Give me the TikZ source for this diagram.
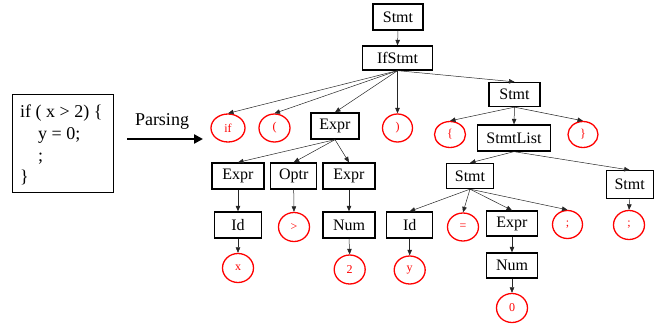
\documentclass[tikz,border=0pt]{standalone}
\usepackage{fontspec}
\setmainfont{Liberation Serif}
\usetikzlibrary{arrows.meta,shapes.geometric}

\tikzset{
  nt/.style={draw=black, line width=1.3pt, rectangle, inner sep=0pt,
    minimum height=26pt, font=\fontsize{16}{18}\selectfont},
  tok/.style={draw=red, line width=1.3pt, ellipse, inner sep=0pt,
    minimum width=31pt, minimum height=28pt, text=red,
    font=\fontsize{12}{14}\selectfont},
  edge/.style={draw=black!85, line width=0.5pt,
    -{Triangle[length=5.5pt,width=4.5pt]}},
  codeline/.style={anchor=base west, inner sep=0pt,
    font=\fontsize{18}{20}\selectfont},
}

\begin{document}
\begin{tikzpicture}[x=1pt,y=-1pt]
\useasboundingbox (0,0) rectangle (657,324);

% source program
\node (codebox) [draw=black, line width=1pt, minimum width=101pt,
  minimum height=98pt, inner sep=0pt] at (62.5,143) {};
\node (l1) [codeline] at (20,117.5) {if ( x > 2) \{};
\node (l2) [codeline] at (38,139.5) {y = 0;};
\node (l3) [codeline] at (38,161) {;};
\node (l4) [codeline] at (20,182.5) {\}};

% parsing arrow
\node (parsing) [anchor=base, inner sep=0pt,
  font=\fontsize{18}{20}\selectfont] at (162,125.5) {Parsing};
\coordinate (pa) at (127,139);
\coordinate (pb) at (203,139);
\draw[line width=2.5pt, -{Triangle[length=9pt,width=9pt]}] (pa) -- (pb);

% parse tree
\node (root)  [nt, minimum width=50pt] at (398,17) {Stmt};
\node (ifs)   [nt, minimum width=70pt, minimum height=24pt] at (397.5,58) {IfStmt};

\node (cif)   [tok, minimum width=34pt] at (228,128) {if};
\node (clp)   [tok] at (274.5,128) {(};
\node (expr)  [nt, minimum width=48pt] at (335,126) {Expr};
\node (crp)   [tok, minimum width=30pt] at (397.5,128) {)};
\node (stmtb) [nt, minimum width=51pt, minimum height=24pt] at (514.5,94.5) {Stmt};

\node (clb)   [tok, minimum height=26pt] at (450,134.5) {\{};
\node (slist) [nt, minimum width=73pt] at (514,138) {StmtList};
\node (crb)   [tok, minimum width=30pt, minimum height=26pt] at (583,134.5) {\}};

\node (expra) [nt, minimum width=52pt] at (238,176) {Expr};
\node (optr)  [nt, minimum width=46pt] at (293.7,176) {Optr};
\node (exprb) [nt, minimum width=52pt] at (349,176) {Expr};

\node (ida)   [nt, minimum width=47pt] at (238,225) {Id};
\node (cgt)   [tok, minimum height=29pt] at (294,227) {>};
\node (numa)  [nt, minimum width=52pt] at (349,225) {Num};

\node (cx)    [tok, minimum height=29pt] at (238,268) {x};
\node (c2)    [tok, minimum height=29pt] at (349.7,269.5) {2};

\node (stmtc) [nt, minimum width=47pt, minimum height=25pt] at (470,176) {Stmt};
\node (stmtd) [nt, minimum width=47pt, minimum height=28pt] at (629.7,184.7) {Stmt};

\node (idb)   [nt, minimum width=46pt] at (409.7,225) {Id};
\node (ceq)   [tok] at (463,227) {=};
\node (exprc) [nt, minimum width=51pt, minimum height=25pt] at (512,223.5) {Expr};
\node (csa)   [tok, minimum width=30pt] at (567.5,224.5) {;};
\node (csb)   [tok, minimum height=29pt] at (629,225) {;};

\node (cy)    [tok] at (409.7,270) {y};
\node (numb)  [nt, minimum width=51pt, minimum height=25pt] at (512,265.5) {Num};
\node (c0)    [tok, minimum height=29pt] at (512,308) {0};

% tree edges
\draw[edge] (root.south) -- (ifs.north);
\foreach \c in {cif,clp,expr,crp,stmtb}
  \draw[edge] (ifs.south) -- (\c.north);
\foreach \c in {clb,slist,crb}
  \draw[edge] (stmtb.south) -- (\c.north);
\foreach \c in {stmtc,stmtd}
  \draw[edge] (slist.south) -- (\c.north);
\foreach \c in {expra,optr,exprb}
  \draw[edge] (expr.south) -- (\c.north);
\draw[edge] (expra.south) -- (ida.north);
\draw[edge] (ida.south) -- (cx.north);
\draw[edge] (optr.south) -- (cgt.north);
\draw[edge] (exprb.south) -- (numa.north);
\draw[edge] (numa.south) -- (c2.north);
\foreach \c in {idb,ceq,exprc,csa}
  \draw[edge] (stmtc.south) -- (\c.north);
\draw[edge] (idb.south) -- (cy.north);
\draw[edge] (exprc.south) -- (numb.north);
\draw[edge] (numb.south) -- (c0.north);
\draw[edge] (stmtd.south) -- (csb.north);
\end{tikzpicture}
\end{document}
